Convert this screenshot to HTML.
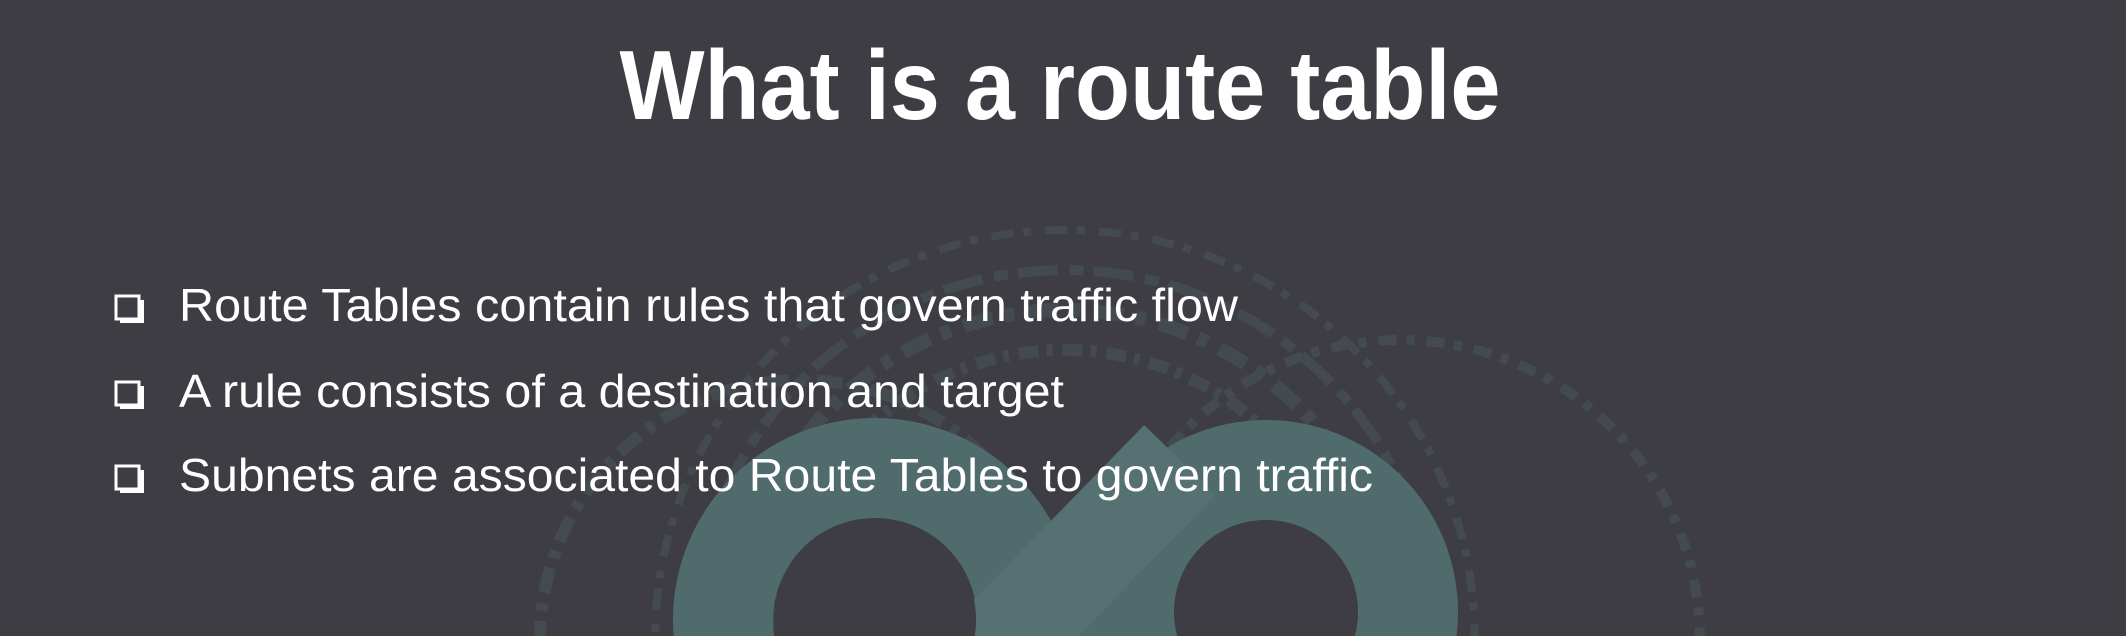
<!DOCTYPE html>
<html><head><meta charset="utf-8"><style>
html,body{margin:0;padding:0;width:2126px;height:636px;overflow:hidden;}
body{background:#3e3d44;position:relative;font-family:"Liberation Sans",sans-serif;}
svg{position:absolute;left:0;top:0;display:block;}
</style></head><body>
<svg width="2126" height="636" viewBox="0 0 2126 636">
  <g fill="none" stroke="#4f6a6c" opacity="0.3">
    <circle cx="1065" cy="640" r="330" stroke-width="14" stroke-dasharray="30 12 10 14"/>
    <circle cx="1065" cy="640" r="370" stroke-width="10" stroke-dasharray="14 10 40 12"/>
    <circle cx="1065" cy="640" r="410" stroke-width="8" stroke-dasharray="8 14 22 10"/>
    <circle cx="1065" cy="640" r="290" stroke-width="12" stroke-dasharray="20 8 6 10"/>
    <circle cx="1400" cy="640" r="300" stroke-width="10" stroke-dasharray="18 10 8 12"/>
    <circle cx="800" cy="640" r="260" stroke-width="12" stroke-dasharray="26 10 8 10"/>
  </g>
  <g fill="none" stroke="#506b6c" stroke-width="100">
    <circle cx="875" cy="620" r="152"/>
    <circle cx="1266" cy="612" r="142"/>
  </g>
  <path d="M985 660 L1180 460" stroke="#557172" stroke-width="100" fill="none"/>
  <circle cx="875" cy="620" r="101" fill="#3e3d44"/>
  <circle cx="1266" cy="612" r="92" fill="#3e3d44"/>
  <text x="1060" y="119" text-anchor="middle" font-family="Liberation Sans, sans-serif" font-weight="bold" font-size="98" fill="#fff" textLength="881" lengthAdjust="spacingAndGlyphs">What is a route table</text>
  <g fill="none" stroke="#fff" stroke-width="3">
    <rect x="116" y="296" width="23" height="23"/>
    <rect x="116" y="382" width="23" height="23"/>
    <rect x="116" y="466" width="23" height="23"/>
  </g>
  <g fill="#fff">
    <rect x="139" y="300" width="5" height="22"/><rect x="120" y="319" width="24" height="4"/>
    <rect x="139" y="386" width="5" height="22"/><rect x="120" y="405" width="24" height="4"/>
    <rect x="139" y="470" width="5" height="22"/><rect x="120" y="489" width="24" height="4"/>
  </g>
  <g font-family="Liberation Sans, sans-serif" font-size="46" fill="#fff">
    <text x="179" y="321" textLength="1059" lengthAdjust="spacingAndGlyphs">Route Tables contain rules that govern traffic flow</text>
    <text x="179" y="407" textLength="885" lengthAdjust="spacingAndGlyphs">A rule consists of a destination and target</text>
    <text x="179" y="491" textLength="1194" lengthAdjust="spacingAndGlyphs">Subnets are associated to Route Tables to govern traffic</text>
  </g>
</svg>
</body></html>
